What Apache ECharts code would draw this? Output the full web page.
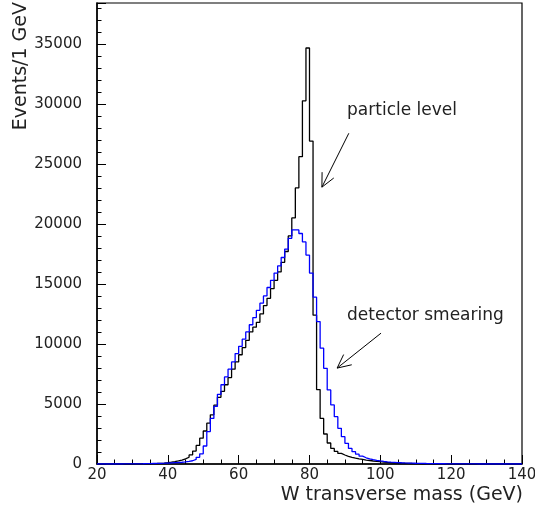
<!DOCTYPE html>
<html><head><meta charset="utf-8">
<script src="https://cdn.jsdelivr.net/npm/echarts@6/dist/echarts.min.js"></script>
<style>html,body{margin:0;padding:0;background:#fff}#c{width:535px;height:512px}</style>
</head><body><div id="c"></div>
<script>
// bin low edges: 1 GeV bins from 20 to 140 GeV
const binLowEdges = Array.from({length: 120}, (_, i) => 20 + i);
const binUpperEnd = 140;

// particle level (black), bins 20..139
const particleLevel = [
  0,0,0,0,0,0,0,0,0,0,
  5,8,10,15,20,30,40,60,80,110,
  150,200,260,330,420,560,760,1080,1550,2150,
  2750,3400,4100,4900,5550,6050,6600,7200,7900,8500,
  9100,9700,10300,11000,11400,11800,12500,13200,13800,14600,
  15300,16000,16800,17700,19000,20500,23000,25600,30250,34650,
  26900,12400,6200,3800,2500,1750,1300,1050,880,750,
  640,560,490,430,380,330,290,250,220,190,
  165,140,120,100,85,70,60,50,40,32,
  25,20,16,12,9,7,5,4,3,2,
  0,0,0,0,0,0,0,0,0,0,
  0,0,0,0,0,0,0,0,0,0
];

// detector smearing (blue), bins 20..139
const detectorSmearing = [
  0,0,0,0,0,0,0,5,8,10,
  14,18,22,27,33,40,48,57,68,80,
  95,110,125,145,170,210,270,380,560,850,
  1500,2700,3800,4800,5800,6600,7250,7900,8500,9200,
  9800,10400,11000,11600,12200,12800,13400,14000,14700,15300,
  15900,16500,17200,17900,18800,19500,19500,19200,18500,17400,
  15900,13900,11860,9650,7970,6170,4920,3940,2970,2280,
  1720,1300,1030,820,650,520,430,360,300,255,
  215,185,160,140,120,105,92,80,70,61,
  53,46,40,35,30,26,22,19,16,13,
  11,9,8,6,5,4,3,2,2,1,
  0,0,0,0,0,0,0,0,0,0
];

const xTicks = [20, 40, 60, 80, 100, 120, 140];
const yTicks = [0, 5000, 10000, 15000, 20000, 25000, 30000, 35000];

// annotations (data coordinates): label anchor, arrow start, arrow tip
const annotationTexts = ['particle level', 'detector smearing'];
const annotationTextPos = [[90.6, 29400], [90.6, 12400]];
const annotationArrowFrom = [[91.1, 27550], [100.2, 10900]];
const annotationArrowTo = [[83.5, 23060], [87.8, 7990]];

function toSteps(vals) {
  const d = binLowEdges.map((e, i) => [e, vals[i]]);
  d.push([binUpperEnd, vals[vals.length - 1]]);
  return d;
}

const FONT = '"DejaVu Sans", "Liberation Sans", sans-serif';
const chart = echarts.init(document.getElementById('c'), null, {renderer: 'canvas'});

chart.setOption({
  animation: false,
  backgroundColor: '#fff',
  grid: {left: 97, right: 13, top: 3, bottom: 48, outerBoundsMode: 'none', containLabel: false,
    show: true, borderColor: '#000', borderWidth: 1.2, backgroundColor: 'transparent'},
  xAxis: {
    type: 'value', min: xTicks[0], max: xTicks[xTicks.length - 1], interval: 20,
    axisLine: {show: true, onZero: false, lineStyle: {color: '#000', width: 1.5}},
    axisTick: {show: true, inside: true, length: 9, lineStyle: {color: '#000', width: 1}},
    minorTick: {show: true, splitNumber: 4, length: 4.5, lineStyle: {color: '#000', width: 1}},
    splitLine: {show: false},
    axisLabel: {color: '#222', fontFamily: FONT, fontSize: 15, margin: 4, hideOverlap: false,
      formatter: v => xTicks.includes(v) ? String(v) : ''}
  },
  yAxis: [{
    type: 'value', min: 0, max: 38400, interval: 5000,
    axisLine: {show: true, onZero: false, lineStyle: {color: '#000', width: 1.5}},
    axisTick: {show: true, inside: true, length: 9, lineStyle: {color: '#000', width: 1}},
    splitLine: {show: false},
    axisLabel: {color: '#222', fontFamily: FONT, fontSize: 15, margin: 15,
      formatter: v => yTicks.includes(v) ? String(v) : ''}
  }, {
    type: 'value', min: 0, max: 38400, interval: 1000, position: 'left',
    axisLine: {show: false},
    axisTick: {show: true, inside: true, length: 4.5, lineStyle: {color: '#000', width: 1}},
    splitLine: {show: false},
    axisLabel: {show: false}
  }],
  graphic: [
    {type: 'text', x: 523, y: 495, style: {text: 'W transverse mass (GeV)', font: '19px ' + FONT, fill: '#222', align: 'right', verticalAlign: 'middle'}},
    {type: 'text', x: 21, y: 2, rotation: Math.PI / 2, style: {text: 'Events/1 GeV', font: '19px ' + FONT, fill: '#222', align: 'right', verticalAlign: 'middle'}}
  ],
  series: [
    {type: 'line', step: 'end', data: toSteps(particleLevel), symbol: 'none', clip: true,
      lineStyle: {color: '#000', width: 1.3}, z: 2},
    {type: 'line', step: 'end', data: toSteps(detectorSmearing), symbol: 'none', clip: true,
      lineStyle: {color: '#0000ff', width: 1.3}, z: 3},
    {type: 'custom', clip: false, z: 5,
      data: annotationTexts.map((t, i) => [annotationArrowFrom[i][0], annotationArrowFrom[i][1], annotationArrowTo[i][0], annotationArrowTo[i][1], annotationTextPos[i][0], annotationTextPos[i][1]]),
      renderItem: function (params, api) {
        const i = params.dataIndex;
        const p0 = api.coord([api.value(0), api.value(1)]);
        const p1 = api.coord([api.value(2), api.value(3)]);
        const pt = api.coord([api.value(4), api.value(5)]);
        const ang = Math.atan2(p1[1] - p0[1], p1[0] - p0[0]);
        const L = 15, a = 0.45;
        const w1 = [p1[0] - L * Math.cos(ang - a), p1[1] - L * Math.sin(ang - a)];
        const w2 = [p1[0] - L * Math.cos(ang + a), p1[1] - L * Math.sin(ang + a)];
        return {type: 'group', children: [
          {type: 'line', shape: {x1: p0[0], y1: p0[1], x2: p1[0], y2: p1[1]}, style: {stroke: '#000', lineWidth: 1}},
          {type: 'polyline', shape: {points: [w1, p1, w2]}, style: {stroke: '#000', fill: null, lineWidth: 1}},
          {type: 'text', x: pt[0], y: pt[1], style: {text: annotationTexts[i], font: '17px ' + FONT, fill: '#222', align: 'left', verticalAlign: 'middle'}}
        ]};
      }
    }
  ]
});
</script>
</body></html>
